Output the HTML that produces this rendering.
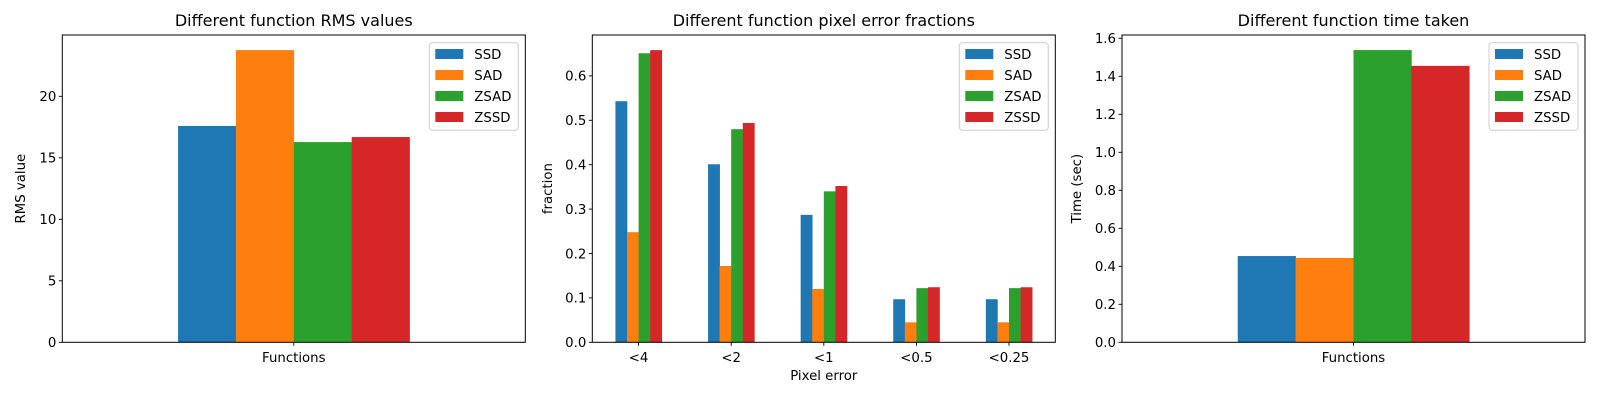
<!DOCTYPE html>
<html><head><meta charset="utf-8"><style>
body{margin:0;background:#fff}
svg{display:block;font-family:"DejaVu Sans","Liberation Sans",sans-serif}
</style></head><body>
<svg id="fig" width="1600" height="400" viewBox="0 0 1600 400" xmlns="http://www.w3.org/2000/svg"></svg>
<script>
const seriesNames = ["SSD","SAD","ZSAD","ZSSD"];
const colors = ["#1f77b4","#ff7f0e","#2ca02c","#d62728"];
const rmsValues = [17.59, 23.76, 16.28, 16.69];
const rmsTicks = [0,5,10,15,20];
const pixelCategories = ["<4","<2","<1","<0.5","<0.25"];
const pixSSD = [0.543,0.401,0.287,0.097,0.097];
const pixSAD = [0.248,0.172,0.120,0.045,0.045];
const pixZSAD = [0.651,0.480,0.340,0.122,0.122];
const pixZSSD = [0.658,0.494,0.352,0.124,0.124];
const pixTicks = [0,0.1,0.2,0.3,0.4,0.5,0.6];
const timeValues = [0.454, 0.444, 1.538, 1.455];
const timeTicks = [0,0.2,0.4,0.6,0.8,1.0,1.2,1.4,1.6];

const NS="http://www.w3.org/2000/svg";
const svg=document.getElementById('fig');
function el(tag,attrs,parent,text){const e=document.createElementNS(NS,tag);for(const k in attrs)e.setAttribute(k,attrs[k]);if(text!==undefined)e.textContent=text;(parent||svg).appendChild(e);return e;}

function panel(opt){
  const g=el('g',{});
  
  
  const L=opt.left,R=opt.right,T=35,B=342.3;
  const y=v=>B-(v-opt.ymin)/(opt.ymax-opt.ymin)*(B-T);
  const x=c=>L+(c-opt.xmin)/(opt.xmax-opt.xmin)*(R-L);
  const nC=opt.categories.length;
  for(let s=0;s<4;s++){
    for(let c=0;c<nC;c++){
      const v=opt.series[s][c];
      const x0=x(c-0.25+s*0.125);
      const r=el('rect',{x:x0,y:y(v),width:x(c-0.25+(s+1)*0.125)-x0+0.3,height:B-y(v),fill:colors[s]},g);
      
      
    }
  }
  opt.yticks.forEach(t=>{
    const yy=y(t);
    el('line',{x1:L-3.5,x2:L,y1:yy,y2:yy,stroke:'#000','stroke-width':0.9},g);
    const tx=el('text',{x:L-6,y:yy+4.8,'text-anchor':'end','font-size':13.3,fill:'#000'},g,opt.yfmt(t));
    
    
  });
  opt.categories.forEach((c,i)=>{
    const xx=x(i);
    el('line',{x1:xx,x2:xx,y1:B,y2:B+3.5,stroke:'#000','stroke-width':0.9},g);
    const tx=el('text',{x:xx,y:B+19.5,'text-anchor':'middle','font-size':13.3,fill:'#000'},g,c);
    
    
  });
  el('rect',{x:L,y:T,width:R-L,height:B-T,fill:'none',stroke:'#000','stroke-width':1},g);
  const ti=el('text',{x:(L+R)/2,y:26,'text-anchor':'middle','font-size':16,fill:'#000'},g,opt.title);
  
  
  if(opt.xlabel){
    const xl=el('text',{x:(L+R)/2,y:380,'text-anchor':'middle','font-size':13.3,fill:'#000'},g,opt.xlabel);
    
    
  }
  const yl=el('text',{x:0,y:0,'text-anchor':'middle','font-size':13.3,fill:'#000',transform:`translate(${opt.ylx},${(T+B)/2}) rotate(-90)`},g,opt.ylabel);
  
  
  const lx=R-96,ly=42.7;
  const lg=el('g',{},g);
  
  
  el('rect',{x:lx,y:ly,width:89,height:87.5,rx:3,fill:'#fff','fill-opacity':0.8,stroke:'#ccc','stroke-width':1},lg);
  seriesNames.forEach((n,i)=>{
    const cy=54+i*21;
    el('rect',{x:lx+6,y:cy-5,width:28,height:10,fill:colors[i]},lg);
    const t=el('text',{x:lx+45,y:cy+5,'font-size':13.3,fill:'#000'},lg,n);
    
    
  });
}

panel({name:'rms-chart',left:62.3,right:525.3,xmin:-0.5,xmax:0.5,ymin:0,ymax:(1027-105)/36.9,
  categories:["Functions"],series:rmsValues.map(v=>[v]),yticks:rmsTicks,yfmt:t=>String(t),
  title:"Different function RMS values",xlabel:null,ylabel:"RMS value",ylx:25});
panel({name:'pixel-error-chart',left:592.3,right:1055.3,xmin:-0.5,xmax:4.5,ymin:0,ymax:(342.3-35)/444,
  categories:pixelCategories,series:[pixSSD,pixSAD,pixZSAD,pixZSSD],yticks:pixTicks,yfmt:t=>t.toFixed(1),
  title:"Different function pixel error fractions",xlabel:"Pixel error",ylabel:"fraction",ylx:552});
panel({name:'time-chart',left:1122,right:1585,xmin:-0.5,xmax:0.5,ymin:0,ymax:(342.3-35)/190,
  categories:["Functions"],series:timeValues.map(v=>[v]),yticks:timeTicks,yfmt:t=>t.toFixed(1),
  title:"Different function time taken",xlabel:null,ylabel:"Time (sec)",ylx:1081});
</script>
</body></html>
